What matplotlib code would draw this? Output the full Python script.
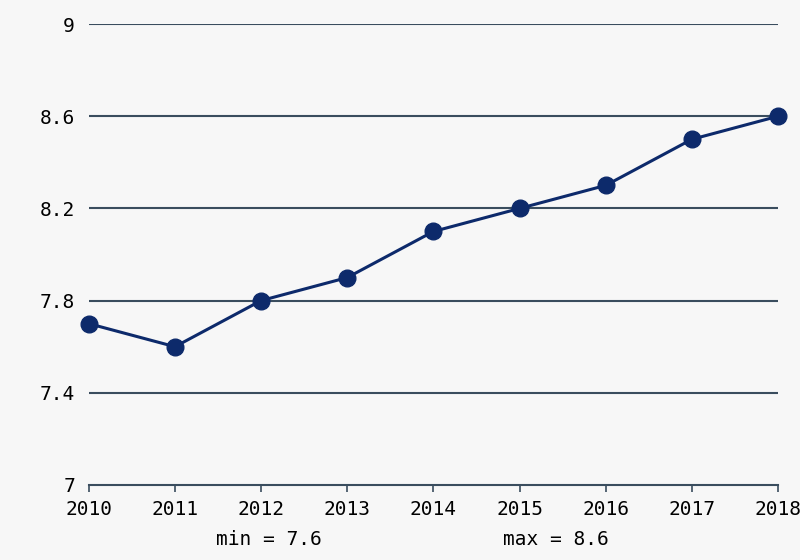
import matplotlib
matplotlib.use("Agg")
import matplotlib.pyplot as plt

years = [2010, 2011, 2012, 2013, 2014, 2015, 2016, 2017, 2018]
values = [7.7, 7.6, 7.8, 7.9, 8.1, 8.2, 8.3, 8.5, 8.6]
yticks = [7, 7.4, 7.8, 8.2, 8.6, 9]
ytick_labels = ["7", "7.4", "7.8", "8.2", "8.6", "9"]

bg = "#f7f7f7"
grid_col = "#3a4d5e"
line_col = "#0d2a6b"

plt.rcParams["font.family"] = "DejaVu Sans Mono"

fig = plt.figure(figsize=(8, 5.6), dpi=100, facecolor=bg)
ax = fig.add_axes([0.111, 0.134, 0.8615, 0.823])
ax.set_facecolor(bg)

for y in yticks[1:]:
    ax.axhline(y, color=grid_col, lw=1.5, zorder=1)

ax.plot(years, values, color=line_col, lw=2.2, marker="o", markersize=12,
        markerfacecolor=line_col, markeredgecolor=line_col, zorder=3,
        clip_on=False)

ax.set_xlim(years[0], years[-1])
ax.set_ylim(7, 9)
ax.set_xticks(years)
ax.set_xticklabels([str(y) for y in years], fontsize=14)
ax.set_yticks(yticks)
ax.set_yticklabels(ytick_labels, fontsize=14)

for s in ["top", "right", "left"]:
    ax.spines[s].set_visible(False)
ax.spines["bottom"].set_color(grid_col)
ax.spines["bottom"].set_linewidth(1.5)
ax.tick_params(axis="x", length=5, width=1.2, color=grid_col, pad=6)
ax.tick_params(axis="y", length=0, pad=10)

fig.text(0.336, 0.036, "min = %.1f" % min(values), ha="center", va="center", fontsize=14)
fig.text(0.695, 0.036, "max = %.1f" % max(values), ha="center", va="center", fontsize=14)

fig.savefig("out.png", dpi=100, facecolor=bg)
